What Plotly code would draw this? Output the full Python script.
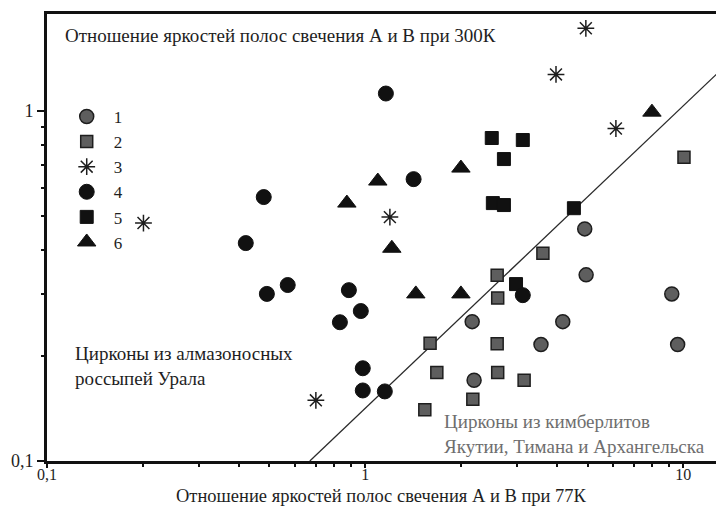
import plotly.graph_objects as go

# Brightness ratio of luminescence bands A/B: at 77K (x) and at 300K (y)
x1 = [4.9, 4.95, 2.17, 4.18, 3.57, 2.2, 9.2, 9.6]
y1 = [0.46, 0.34, 0.25, 0.25, 0.215, 0.17, 0.30, 0.215]

x2 = [10.05, 3.62, 2.60, 2.61, 1.60, 2.60, 1.68, 2.61, 3.16, 2.18, 1.54]
y2 = [0.737, 0.392, 0.339, 0.292, 0.217, 0.216, 0.179, 0.179, 0.170, 0.150, 0.140]

x3 = [4.94, 3.98, 6.14, 1.196, 0.201, 0.70]
y3 = [1.72, 1.27, 0.89, 0.497, 0.478, 0.149]

x4 = [1.162, 0.48, 0.4215, 1.42, 0.491, 0.571, 0.889, 0.969, 0.833, 0.983, 0.983, 1.153, 3.13]
y4 = [1.12, 0.567, 0.419, 0.638, 0.30, 0.318, 0.3075, 0.268, 0.249, 0.184, 0.159, 0.158, 0.2975]

x5 = [2.50, 3.13, 2.73, 2.52, 2.73, 4.53, 2.98]
y5 = [0.836, 0.825, 0.728, 0.545, 0.538, 0.527, 0.32]

x6 = [7.97, 1.096, 0.876, 1.213, 2.0, 1.443, 2.0]
y6 = [0.991, 0.63, 0.545, 0.405, 0.686, 0.30, 0.30]

# dividing line between the two zircon populations
boundary_x = [0.67, 12.7]
boundary_y = [0.1, 1.27]

x_ticks = [0.1, 1, 10]
x_ticktext = ["0,1", "1", "10"]
y_ticks = [0.1, 1]
y_ticktext = ["0,1", "1"]
x_minor = [0.2, 0.3, 0.4, 0.5, 0.6, 0.7, 0.8, 0.9, 2, 3, 4, 5, 6, 7, 8, 9]
y_minor = [0.2, 0.3, 0.4, 0.5, 0.6, 0.7, 0.8, 0.9]

FONT = "Liberation Serif"
INK = "#1e1e1e"
GREY_FILL = "#5e5e5e"
TXT = 19

fig = go.Figure()

fig.add_trace(go.Scatter(
    x=boundary_x, y=boundary_y, mode="lines",
    line=dict(color="#2a2a2a", width=1.3), showlegend=False, hoverinfo="skip"))

series = [
    ("1", x1, y1, dict(symbol="circle", size=14, color=GREY_FILL, line=dict(color=INK, width=1.5)), 1),
    ("2", x2, y2, dict(symbol="square", size=12, color=GREY_FILL, line=dict(color=INK, width=1.5)), 2),
    ("3", x3, y3, dict(symbol="asterisk-open", size=14, color=INK, line=dict(color=INK, width=1.5)), 3),
    ("5", x5, y5, dict(symbol="square", size=13, color="#111111", line=dict(color="#111111", width=1)), 5),
    ("4", x4, y4, dict(symbol="circle", size=15, color="#111111", line=dict(color="#111111", width=1)), 4),
    ("6", x6, y6, dict(symbol="triangle-up", size=16, color="#111111", line=dict(color="#111111", width=1)), 6),
]
for name, xs, ys, marker, rank in series:
    fig.add_trace(go.Scatter(
        x=xs, y=ys, mode="markers", name=name, marker=marker,
        legendrank=rank, cliponaxis=False))

fig.update_xaxes(
    type="log", range=[-1, 1.1028], automargin=False,
    showline=True, linewidth=3, linecolor="#111111", mirror=True,
    ticks="outside", ticklen=4, tickwidth=2, tickcolor="#111111",
    tickvals=x_ticks, ticktext=x_ticktext, ticklabelstandoff=-7,
    minor=dict(ticks="outside", ticklen=3, tickwidth=2, tickcolor="#111111",
               tickmode="array", tickvals=x_minor, showgrid=False),
    showgrid=False, zeroline=False,
    tickfont=dict(family=FONT, size=16, color=INK),
)
fig.update_yaxes(
    type="log", range=[-1, 0.2763], automargin=False,
    showline=True, linewidth=3, linecolor="#111111", mirror=False,
    ticks="outside", ticklen=7, tickwidth=2, tickcolor="#111111",
    tickvals=y_ticks, ticktext=y_ticktext,
    minor=dict(ticks="outside", ticklen=3, tickwidth=2, tickcolor="#111111",
               tickmode="array", tickvals=y_minor, showgrid=False),
    showgrid=False, zeroline=False,
    tickfont=dict(family=FONT, size=18, color=INK),
)

fig.update_layout(
    width=716, height=506,
    margin=dict(l=47, r=0, t=14, b=45),
    paper_bgcolor="white", plot_bgcolor="white",
    font=dict(family=FONT, size=TXT, color=INK),
    legend=dict(x=0.019, y=0.81, xanchor="left", yanchor="top",
                itemwidth=44,
                font=dict(family=FONT, size=17, color=INK),
                bgcolor="rgba(0,0,0,0)", borderwidth=0),
    annotations=[
        # x-axis title
        dict(text="Отношение яркостей полос свечения А и В при 77К",
             xref="paper", yref="paper", x=0.5, y=-0.1025,
             xanchor="center", yanchor="bottom", showarrow=False, borderpad=0,
             font=dict(family=FONT, size=18.5, color=INK)),
        # y-axis title, placed inside the plot
        dict(text="Отношение яркостей полос свечения А и В при 300К",
             xref="paper", yref="paper", x=0.024, y=0.953,
             xanchor="left", yanchor="middle", showarrow=False,
             font=dict(family=FONT, size=TXT, color=INK)),
        dict(text="Цирконы из алмазоносных<br>россыпей Урала",
             xref="paper", yref="paper", x=0.039, y=0.213,
             xanchor="left", yanchor="middle", align="left", showarrow=False,
             font=dict(family=FONT, size=TXT, color=INK)),
        dict(text="Цирконы из кимберлитов<br>Якутии, Тимана и Архангельска",
             xref="paper", yref="paper", x=0.590, y=0.060,
             xanchor="left", yanchor="middle", align="left", showarrow=False,
             font=dict(family=FONT, size=TXT, color="#6e6e6e")),
    ],
)

fig.write_html("out.html")
